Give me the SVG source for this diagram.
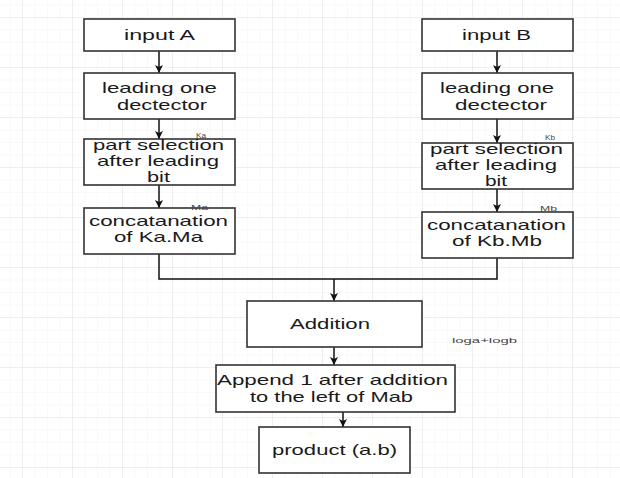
<svg xmlns="http://www.w3.org/2000/svg" width="620" height="478" viewBox="0 0 620 478">
<defs>
<pattern id="minor" x="22" y="17" width="12.5" height="12.5" patternUnits="userSpaceOnUse">
<path d="M0 0H12.5M0 0V12.5" fill="none" stroke="#f3f3f3" stroke-width="1"/>
</pattern>
<pattern id="major" x="22" y="17" width="50" height="50" patternUnits="userSpaceOnUse">
<path d="M0 0H50M0 0V50" fill="none" stroke="#e6e6e6" stroke-width="1.2"/>
</pattern>
<marker id="arr" viewBox="0 0 10 10" refX="10" refY="5" markerWidth="8" markerHeight="8" markerUnits="userSpaceOnUse" orient="auto">
<path d="M0 0L10 5L0 10L2.5 5Z" fill="#111"/>
</marker>
</defs>
<style>
.box{fill:#fff;stroke:#333;stroke-width:1.6}
.t{font-family:"Liberation Sans",Arial,sans-serif;font-size:15px;fill:#1a1a1a;text-anchor:start}
.s{font-family:"Liberation Sans",Arial,sans-serif;font-size:8px;fill:#444}
.c{fill:none;stroke:#111;stroke-width:1.5}
</style>
<rect width="620" height="478" fill="#fff"/>
<rect width="620" height="478" fill="url(#minor)"/>
<rect width="620" height="478" fill="url(#major)"/>

<g id="connectors">
<path class="c" d="M159 51V73" marker-end="url(#arr)"/>
<path class="c" d="M159 119V139" marker-end="url(#arr)"/>
<path class="c" d="M159 185V208" marker-end="url(#arr)"/>
<path class="c" d="M497 51V73" marker-end="url(#arr)"/>
<path class="c" d="M497 119V143" marker-end="url(#arr)"/>
<path class="c" d="M497 189V212" marker-end="url(#arr)"/>
<path class="c" d="M159 254V279H497V258"/>
<path class="c" d="M334 279V301" marker-end="url(#arr)"/>
<path class="c" d="M334 347V365" marker-end="url(#arr)"/>
<path class="c" d="M343 412V427" marker-end="url(#arr)"/>
</g>

<g id="inputA">
<rect class="box" x="84" y="19" width="151" height="32"/>
<text class="t" x="124" y="40" textLength="71" lengthAdjust="spacingAndGlyphs">input A</text>
</g>
<g id="inputB">
<rect class="box" x="422" y="19" width="151" height="32"/>
<text class="t" x="462" y="40" textLength="69" lengthAdjust="spacingAndGlyphs">input B</text>
</g>
<g id="lodA">
<rect class="box" x="84" y="73" width="151" height="46"/>
<text class="t" x="102" y="93" textLength="115" lengthAdjust="spacingAndGlyphs">leading one</text>
<text class="t" x="117" y="110" textLength="90" lengthAdjust="spacingAndGlyphs">dectector</text>
</g>
<g id="lodB">
<rect class="box" x="422" y="73" width="151" height="46"/>
<text class="t" x="440" y="93" textLength="114" lengthAdjust="spacingAndGlyphs">leading one</text>
<text class="t" x="455" y="110" textLength="92" lengthAdjust="spacingAndGlyphs">dectector</text>
</g>
<g id="partA">
<rect class="box" x="84" y="139" width="151" height="46"/>
<text class="t" x="93" y="150" textLength="131" lengthAdjust="spacingAndGlyphs">part selection</text>
<text class="t" x="97" y="166" textLength="122" lengthAdjust="spacingAndGlyphs">after leading</text>
<text class="t" x="147" y="182" textLength="23" lengthAdjust="spacingAndGlyphs">bit</text>
</g>
<g id="partB">
<rect class="box" x="422" y="143" width="151" height="46"/>
<text class="t" x="430" y="154" textLength="133" lengthAdjust="spacingAndGlyphs">part selection</text>
<text class="t" x="435" y="170" textLength="122" lengthAdjust="spacingAndGlyphs">after leading</text>
<text class="t" x="485" y="186" textLength="22" lengthAdjust="spacingAndGlyphs">bit</text>
</g>
<g id="concatA">
<rect class="box" x="84" y="208" width="151" height="46"/>
<text class="t" x="89" y="226" textLength="139" lengthAdjust="spacingAndGlyphs">concatanation</text>
<text class="t" x="114" y="242" textLength="89" lengthAdjust="spacingAndGlyphs">of Ka.Ma</text>
</g>
<g id="concatB">
<rect class="box" x="422" y="212" width="151" height="46"/>
<text class="t" x="427" y="230" textLength="139" lengthAdjust="spacingAndGlyphs">concatanation</text>
<text class="t" x="452" y="246" textLength="90" lengthAdjust="spacingAndGlyphs">of Kb.Mb</text>
</g>
<g id="addition">
<rect class="box" x="247" y="301" width="175" height="46"/>
<text class="t" x="290" y="329" textLength="80" lengthAdjust="spacingAndGlyphs">Addition</text>
</g>
<g id="append">
<rect class="box" x="216" y="365" width="239" height="47"/>
<text class="t" x="217" y="385" textLength="231" lengthAdjust="spacingAndGlyphs">Append 1 after addition</text>
<text class="t" x="250" y="402" textLength="163" lengthAdjust="spacingAndGlyphs">to the left of Mab</text>
</g>
<g id="product">
<rect class="box" x="259" y="427" width="151" height="46"/>
<text class="t" x="272" y="455" textLength="125" lengthAdjust="spacingAndGlyphs">product (a.b)</text>
</g>

<g id="labels">
<text class="s" x="196" y="138" textLength="10" lengthAdjust="spacingAndGlyphs">Ka</text>
<text class="s" x="191" y="210" textLength="17" lengthAdjust="spacingAndGlyphs">Ma</text>
<text class="s" x="545" y="140" textLength="10" lengthAdjust="spacingAndGlyphs">Kb</text>
<text class="s" x="540" y="211" textLength="17" lengthAdjust="spacingAndGlyphs">Mb</text>
<text class="s" x="452" y="343" font-size="9" textLength="65" lengthAdjust="spacingAndGlyphs">loga+logb</text>
</g>
</svg>
